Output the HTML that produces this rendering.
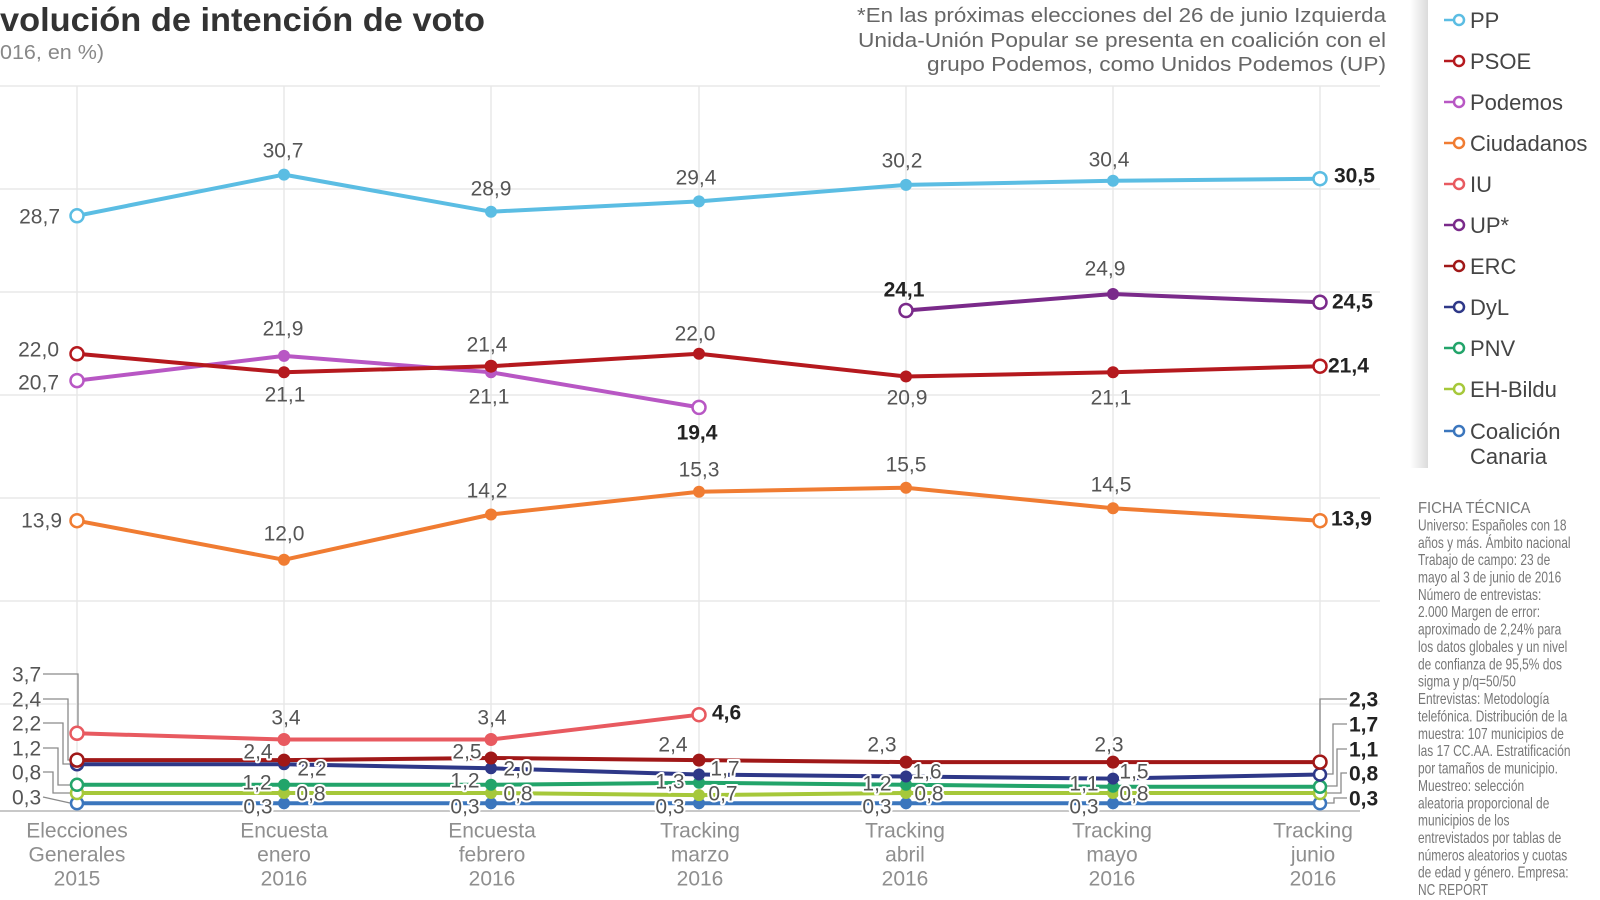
<!DOCTYPE html>
<html>
<head>
<meta charset="utf-8">
<style>
  html,body{margin:0;padding:0;background:#fff;}
  svg{display:block;}
  text{font-family:"Liberation Sans",sans-serif;}
  .lbl{font-size:21px;fill:#555;}
  .b{font-size:21px;font-weight:bold;fill:#222;}
  .halo{font-size:21px;fill:#555;stroke:#fff;stroke-width:4px;paint-order:stroke;stroke-linejoin:round;}
  .xl{font-size:21px;fill:#8f8f8f;text-anchor:middle;}
  .lg{font-size:22px;fill:#444;}
  .ft{font-size:15.5px;fill:#777;}
</style>
</head>
<body>
<svg width="1600" height="900" viewBox="0 0 1600 900" xmlns="http://www.w3.org/2000/svg">
  <defs>
    <linearGradient id="sh" x1="0" y1="0" x2="1" y2="0">
      <stop offset="0" stop-color="#000" stop-opacity="0"/>
      <stop offset="1" stop-color="#000" stop-opacity="0.14"/>
    </linearGradient>
  </defs>
  <rect width="1600" height="900" fill="#fff"/>

  <!-- Title -->
  <text x="0" y="31" font-size="33" font-weight="bold" fill="#333" textLength="485" lengthAdjust="spacingAndGlyphs">volución de intención de voto</text>
  <text x="0" y="59" font-size="20" fill="#888" textLength="104" lengthAdjust="spacingAndGlyphs">016, en %)</text>

  <!-- Note -->
  <text x="857" y="22" font-size="20" fill="#666" textLength="529" lengthAdjust="spacingAndGlyphs">*En las próximas elecciones del 26 de junio Izquierda</text>
  <text x="858" y="47" font-size="20" fill="#666" textLength="528" lengthAdjust="spacingAndGlyphs">Unida-Unión Popular se presenta en coalición con el</text>
  <text x="927" y="71" font-size="20" fill="#666" textLength="459" lengthAdjust="spacingAndGlyphs">grupo Podemos, como Unidos Podemos (UP)</text>

  <!-- Grid -->
  <g stroke="#e8e8e8" stroke-width="1.5">
    <line x1="0" y1="86" x2="1380" y2="86"/>
    <line x1="0" y1="189" x2="1380" y2="189"/>
    <line x1="0" y1="292" x2="1380" y2="292"/>
    <line x1="0" y1="395" x2="1380" y2="395"/>
    <line x1="0" y1="498" x2="1380" y2="498"/>
    <line x1="0" y1="601" x2="1380" y2="601"/>
    <line x1="0" y1="704" x2="1380" y2="704"/>
    <line x1="77" y1="86" x2="77" y2="811"/>
    <line x1="284" y1="86" x2="284" y2="811"/>
    <line x1="491" y1="86" x2="491" y2="811"/>
    <line x1="699" y1="86" x2="699" y2="811"/>
    <line x1="906" y1="86" x2="906" y2="811"/>
    <line x1="1113" y1="86" x2="1113" y2="811"/>
    <line x1="1320" y1="86" x2="1320" y2="811"/>
  </g>
  <line x1="0" y1="811" x2="1360" y2="811" stroke="#c8c8c8" stroke-width="2"/>

  <!-- Leader lines -->
  <g stroke="#8a8a8a" stroke-width="1.3" fill="none">
    <path d="M43,674 H78 V726"/>
    <path d="M43,699 H68 V760 H70"/>
    <path d="M43,723 H63 V764 H70"/>
    <path d="M43,748 H58 V785 H70"/>
    <path d="M43,772 H53 V793 H70"/>
    <path d="M43,797 L70,803"/>
    <path d="M1320,754 V699 H1347"/>
    <path d="M1327,774 H1333 V724 H1347"/>
    <path d="M1327,786 H1337 V749 H1347"/>
    <path d="M1327,793 H1341 V773 H1347"/>
    <path d="M1327,803 H1334 V798 H1347"/>
  </g>

  <!-- Series lines -->
  <g fill="none" stroke-width="4" stroke-linejoin="round">
    <polyline stroke="#3b76bd" points="77,803.3 284,803.3 491,803.3 699,803.3 906,803.3 1113,803.3 1320,803.3"/>
    <polyline stroke="#a6c83a" points="77,793 284,793 491,793 699,795.1 906,793 1113,793 1320,793"/>
    <polyline stroke="#22a46a" points="77,784.8 284,784.8 491,784.8 699,782.7 906,784.8 1113,786.8 1320,786.8"/>
    <polyline stroke="#2e3888" points="77,764.2 284,764.2 491,768.3 699,774.5 906,776.5 1113,778.6 1320,774.5"/>
    <polyline stroke="#a01818" points="77,760.1 284,760.1 491,758 699,760.1 906,762.1 1113,762.1 1320,762.1"/>
    <polyline stroke="#e85a60" points="77,733.3 284,739.5 491,739.5 699,714.7"/>
    <polyline stroke="#f07c32" points="77,520.7 284,559.8 491,514.5 699,491.8 906,487.7 1113,508.3 1320,520.7"/>
    <polyline stroke="#7a2a8a" points="906,310.5 1113,294 1320,302.3"/>
    <polyline stroke="#b857c4" points="77,380.6 284,355.9 491,372.3 699,407.4"/>
    <polyline stroke="#b5191e" points="77,353.8 284,372.3 491,366.2 699,353.8 906,376.5 1113,372.3 1320,366.2"/>
    <polyline stroke="#5bbde3" points="77,215.8 284,174.6 491,211.7 699,201.4 906,184.9 1113,180.8 1320,178.7"/>
  </g>

  <!-- Markers -->
  <!-- CC -->
  <g fill="#3b76bd"><circle cx="284" cy="803.3" r="6"/><circle cx="491" cy="803.3" r="6"/><circle cx="699" cy="803.3" r="6"/><circle cx="906" cy="803.3" r="6"/><circle cx="1113" cy="803.3" r="6"/></g>
  <g fill="#fff" stroke="#3b76bd" stroke-width="2.5"><circle cx="77" cy="803.3" r="6"/><circle cx="1320" cy="803.3" r="6"/></g>
  <!-- EH -->
  <g fill="#a6c83a"><circle cx="284" cy="793" r="6"/><circle cx="491" cy="793" r="6"/><circle cx="699" cy="795.1" r="6"/><circle cx="906" cy="793" r="6"/><circle cx="1113" cy="793" r="6"/></g>
  <g fill="#fff" stroke="#a6c83a" stroke-width="2.5"><circle cx="77" cy="793" r="6"/><circle cx="1320" cy="793" r="6"/></g>
  <!-- PNV -->
  <g fill="#22a46a"><circle cx="284" cy="784.8" r="6"/><circle cx="491" cy="784.8" r="6"/><circle cx="699" cy="782.7" r="6"/><circle cx="906" cy="784.8" r="6"/><circle cx="1113" cy="786.8" r="6"/></g>
  <g fill="#fff" stroke="#22a46a" stroke-width="2.5"><circle cx="77" cy="784.8" r="6"/><circle cx="1320" cy="786.8" r="6"/></g>
  <!-- DyL -->
  <g fill="#2e3888"><circle cx="284" cy="764.2" r="6"/><circle cx="491" cy="768.3" r="6"/><circle cx="699" cy="774.5" r="6"/><circle cx="906" cy="776.5" r="6"/><circle cx="1113" cy="778.6" r="6"/></g>
  <g fill="#fff" stroke="#2e3888" stroke-width="2.5"><circle cx="77" cy="764.2" r="6"/><circle cx="1320" cy="774.5" r="6"/></g>
  <!-- ERC -->
  <g fill="#a01818"><circle cx="284" cy="760.1" r="6.5"/><circle cx="491" cy="758" r="6.5"/><circle cx="699" cy="760.1" r="6.5"/><circle cx="906" cy="762.1" r="6.5"/><circle cx="1113" cy="762.1" r="6.5"/></g>
  <g fill="#fff" stroke="#a01818" stroke-width="2.5"><circle cx="77" cy="760.1" r="6.5"/><circle cx="1320" cy="762.1" r="6.5"/></g>
  <!-- IU -->
  <g fill="#e85a60"><circle cx="284" cy="739.5" r="6.5"/><circle cx="491" cy="739.5" r="6.5"/></g>
  <g fill="#fff" stroke="#e85a60" stroke-width="2.5"><circle cx="77" cy="733.3" r="6.5"/><circle cx="699" cy="714.7" r="6.5"/></g>
  <!-- Cs -->
  <g fill="#f07c32"><circle cx="284" cy="559.8" r="6"/><circle cx="491" cy="514.5" r="6"/><circle cx="699" cy="491.8" r="6"/><circle cx="906" cy="487.7" r="6"/><circle cx="1113" cy="508.3" r="6"/></g>
  <g fill="#fff" stroke="#f07c32" stroke-width="2.5"><circle cx="77" cy="520.7" r="6.5"/><circle cx="1320" cy="520.7" r="6.5"/></g>
  <!-- UP -->
  <g fill="#7a2a8a"><circle cx="1113" cy="294" r="6"/></g>
  <g fill="#fff" stroke="#7a2a8a" stroke-width="2.5"><circle cx="906" cy="310.5" r="6.5"/><circle cx="1320" cy="302.3" r="6.5"/></g>
  <!-- Podemos -->
  <g fill="#b857c4"><circle cx="284" cy="355.9" r="6"/><circle cx="491" cy="372.3" r="6"/></g>
  <g fill="#fff" stroke="#b857c4" stroke-width="2.5"><circle cx="77" cy="380.6" r="6.5"/><circle cx="699" cy="407.4" r="6.5"/></g>
  <!-- PSOE -->
  <g fill="#b5191e"><circle cx="284" cy="372.3" r="6"/><circle cx="491" cy="366.2" r="6.5"/><circle cx="699" cy="353.8" r="6"/><circle cx="906" cy="376.5" r="6"/><circle cx="1113" cy="372.3" r="6"/></g>
  <g fill="#fff" stroke="#b5191e" stroke-width="2.5"><circle cx="77" cy="353.8" r="6.5"/><circle cx="1320" cy="366.2" r="6.5"/></g>
  <!-- PP -->
  <g fill="#5bbde3"><circle cx="284" cy="174.6" r="6"/><circle cx="491" cy="211.7" r="6"/><circle cx="699" cy="201.4" r="6"/><circle cx="906" cy="184.9" r="6"/><circle cx="1113" cy="180.8" r="6"/></g>
  <g fill="#fff" stroke="#5bbde3" stroke-width="2.5"><circle cx="77" cy="215.8" r="6.5"/><circle cx="1320" cy="178.7" r="6.5"/></g>

  <!-- Data labels (upper) -->
  <g class="lbl" text-anchor="middle">
    <text x="283" y="157.5">30,7</text>
    <text x="491" y="195.5">28,9</text>
    <text x="696" y="184.5">29,4</text>
    <text x="902" y="167.5">30,2</text>
    <text x="1109" y="166.5">30,4</text>
    <text x="285" y="401.5">21,1</text>
    <text x="487" y="351.5">21,4</text>
    <text x="695" y="340.5">22,0</text>
    <text x="907" y="404.5">20,9</text>
    <text x="1111" y="404.5">21,1</text>
    <text x="283" y="335.5">21,9</text>
    <text x="489" y="403.5">21,1</text>
    <text x="1105" y="275.5">24,9</text>
    <text x="284" y="540.5">12,0</text>
    <text x="487" y="497.5">14,2</text>
    <text x="699" y="476.5">15,3</text>
    <text x="906" y="471.5">15,5</text>
    <text x="1111" y="491.5">14,5</text>
    <text x="286" y="724.5">3,4</text>
    <text x="492" y="724.5">3,4</text>
  </g>
  <g class="lbl" text-anchor="end">
    <text x="60" y="223.5">28,7</text>
    <text x="59" y="356.5">22,0</text>
    <text x="59" y="389.5">20,7</text>
    <text x="62" y="527.5">13,9</text>
  </g>
  <g class="lbl">
    <text x="12" y="681.5">3,7</text>
    <text x="12" y="706.5">2,4</text>
    <text x="12" y="730.5">2,2</text>
    <text x="12" y="755.5">1,2</text>
    <text x="12" y="779.5">0,8</text>
    <text x="12" y="804.5">0,3</text>
  </g>
  <g class="b">
    <text x="1334" y="182.5">30,5</text>
    <text x="1328" y="372.5">21,4</text>
    <text x="1332" y="308.5">24,5</text>
    <text x="1331" y="525.5">13,9</text>
    <text x="712" y="719.5">4,6</text>
    <text x="1349" y="706.5">2,3</text>
    <text x="1349" y="731.5">1,7</text>
    <text x="1349" y="756.5">1,1</text>
    <text x="1349" y="780.5">0,8</text>
    <text x="1349" y="805.5">0,3</text>
  </g>
  <g class="b" text-anchor="middle">
    <text x="697" y="439.5">19,4</text>
    <text x="904" y="296.5">24,1</text>
  </g>

  <!-- Bottom cluster labels with halo -->
  <g class="halo" text-anchor="middle">
    <text x="258" y="758.5">2,4</text>
    <text x="312" y="775.5">2,2</text>
    <text x="257" y="789.5">1,2</text>
    <text x="311" y="800.5">0,8</text>
    <text x="258" y="813.5">0,3</text>

    <text x="467" y="758.5">2,5</text>
    <text x="518" y="775.5">2,0</text>
    <text x="465" y="787.5">1,2</text>
    <text x="518" y="800.5">0,8</text>
    <text x="465" y="813.5">0,3</text>

    <text x="673" y="751.5">2,4</text>
    <text x="725" y="775.5">1,7</text>
    <text x="670" y="788.5">1,3</text>
    <text x="723" y="800.5">0,7</text>
    <text x="670" y="813.5">0,3</text>

    <text x="882" y="751.5">2,3</text>
    <text x="927" y="778.5">1,6</text>
    <text x="877" y="790.5">1,2</text>
    <text x="929" y="800.5">0,8</text>
    <text x="877" y="813.5">0,3</text>

    <text x="1109" y="751.5">2,3</text>
    <text x="1134" y="778.5">1,5</text>
    <text x="1084" y="790.5">1,1</text>
    <text x="1134" y="800.5">0,8</text>
    <text x="1084" y="813.5">0,3</text>
  </g>

  <!-- X axis labels -->
  <g class="xl">
    <text x="77" y="837.5">Elecciones</text><text x="77" y="861.5">Generales</text><text x="77" y="885.5">2015</text>
    <text x="284" y="837.5">Encuesta</text><text x="284" y="861.5">enero</text><text x="284" y="885.5">2016</text>
    <text x="492" y="837.5">Encuesta</text><text x="492" y="861.5">febrero</text><text x="492" y="885.5">2016</text>
    <text x="700" y="837.5">Tracking</text><text x="700" y="861.5">marzo</text><text x="700" y="885.5">2016</text>
    <text x="905" y="837.5">Tracking</text><text x="905" y="861.5">abril</text><text x="905" y="885.5">2016</text>
    <text x="1112" y="837.5">Tracking</text><text x="1112" y="861.5">mayo</text><text x="1112" y="885.5">2016</text>
    <text x="1313" y="837.5">Tracking</text><text x="1313" y="861.5">junio</text><text x="1313" y="885.5">2016</text>
  </g>

  <!-- Legend panel -->
  <rect x="1410" y="0" width="18" height="468" fill="url(#sh)"/>
  <rect x="1428" y="0" width="172" height="468" fill="#fff"/>
  <g stroke-width="2.5">
    <g stroke="#5bbde3"><line x1="1444" y1="20" x2="1454" y2="20"/><circle cx="1459" cy="20" r="5" fill="#fff"/></g>
    <g stroke="#b5191e"><line x1="1444" y1="61" x2="1454" y2="61"/><circle cx="1459" cy="61" r="5" fill="#fff"/></g>
    <g stroke="#b857c4"><line x1="1444" y1="102" x2="1454" y2="102"/><circle cx="1459" cy="102" r="5" fill="#fff"/></g>
    <g stroke="#f07c32"><line x1="1444" y1="143" x2="1454" y2="143"/><circle cx="1459" cy="143" r="5" fill="#fff"/></g>
    <g stroke="#e85a60"><line x1="1444" y1="184" x2="1454" y2="184"/><circle cx="1459" cy="184" r="5" fill="#fff"/></g>
    <g stroke="#7a2a8a"><line x1="1444" y1="225" x2="1454" y2="225"/><circle cx="1459" cy="225" r="5" fill="#fff"/></g>
    <g stroke="#a01818"><line x1="1444" y1="266" x2="1454" y2="266"/><circle cx="1459" cy="266" r="5" fill="#fff"/></g>
    <g stroke="#2e3888"><line x1="1444" y1="307" x2="1454" y2="307"/><circle cx="1459" cy="307" r="5" fill="#fff"/></g>
    <g stroke="#22a46a"><line x1="1444" y1="348" x2="1454" y2="348"/><circle cx="1459" cy="348" r="5" fill="#fff"/></g>
    <g stroke="#a6c83a"><line x1="1444" y1="389" x2="1454" y2="389"/><circle cx="1459" cy="389" r="5" fill="#fff"/></g>
    <g stroke="#3b76bd"><line x1="1444" y1="431" x2="1454" y2="431"/><circle cx="1459" cy="431" r="5" fill="#fff"/></g>
  </g>
  <g class="lg">
    <text x="1470" y="28">PP</text>
    <text x="1470" y="69">PSOE</text>
    <text x="1470" y="110">Podemos</text>
    <text x="1470" y="151">Ciudadanos</text>
    <text x="1470" y="192">IU</text>
    <text x="1470" y="233">UP*</text>
    <text x="1470" y="274">ERC</text>
    <text x="1470" y="315">DyL</text>
    <text x="1470" y="356">PNV</text>
    <text x="1470" y="397">EH-Bildu</text>
    <text x="1470" y="439">Coalición</text>
    <text x="1470" y="464">Canaria</text>
  </g>

  <!-- Ficha técnica -->
  <g transform="translate(1418,0) scale(0.77,1)" class="ft">
    <text x="0" y="513" textLength="146" lengthAdjust="spacingAndGlyphs">FICHA TÉCNICA</text>
    <text x="0" y="530.4">Universo: Españoles con 18</text>
    <text x="0" y="547.8">años y más. Ámbito nacional</text>
    <text x="0" y="565.1">Trabajo de campo: 23 de</text>
    <text x="0" y="582.5">mayo al 3 de junio de 2016</text>
    <text x="0" y="599.9">Número de entrevistas:</text>
    <text x="0" y="617.2">2.000 Margen de error:</text>
    <text x="0" y="634.6">aproximado de 2,24% para</text>
    <text x="0" y="652.0">los datos globales y un nivel</text>
    <text x="0" y="669.3">de confianza de 95,5% dos</text>
    <text x="0" y="686.7">sigma y p/q=50/50</text>
    <text x="0" y="704.1">Entrevistas: Metodología</text>
    <text x="0" y="721.4">telefónica. Distribución de la</text>
    <text x="0" y="738.8">muestra: 107 municipios de</text>
    <text x="0" y="756.2">las 17 CC.AA. Estratificación</text>
    <text x="0" y="773.5">por tamaños de municipio.</text>
    <text x="0" y="790.9">Muestreo: selección</text>
    <text x="0" y="808.3">aleatoria proporcional de</text>
    <text x="0" y="825.6">municipios de los</text>
    <text x="0" y="843.0">entrevistados por tablas de</text>
    <text x="0" y="860.4">números aleatorios y cuotas</text>
    <text x="0" y="877.7">de edad y género. Empresa:</text>
    <text x="0" y="895.1">NC REPORT</text>
  </g>
</svg>
</body>
</html>
